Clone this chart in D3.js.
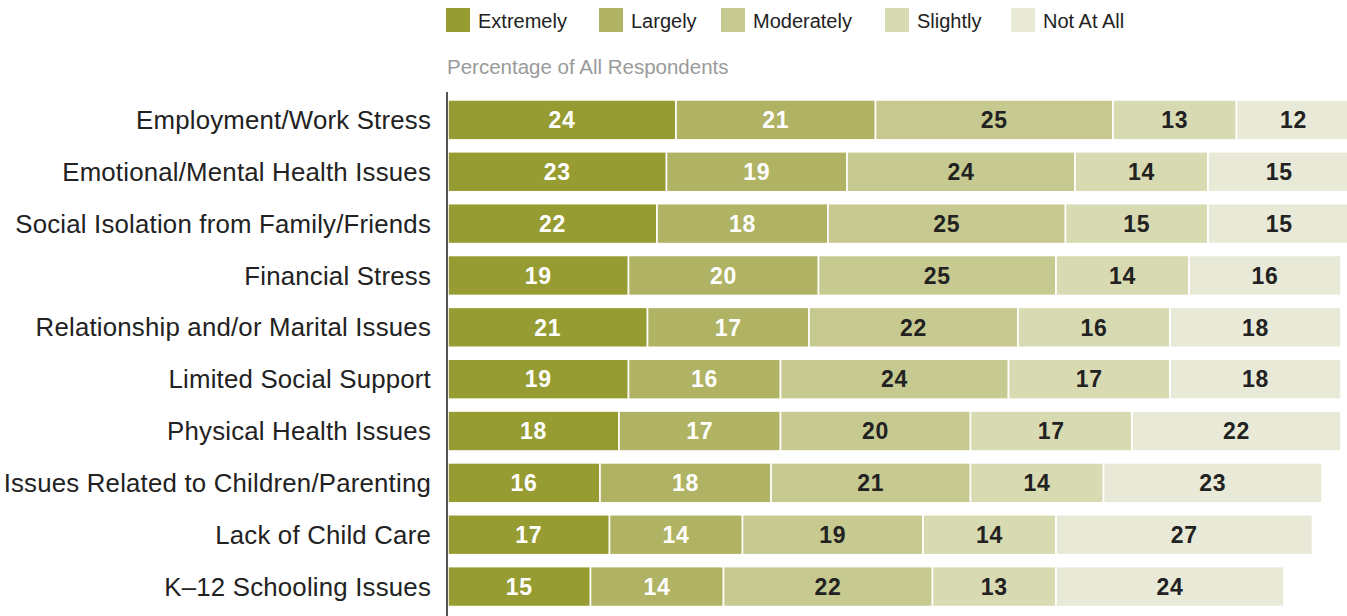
<!DOCTYPE html>
<html>
<head>
<meta charset="utf-8">
<script src="https://cdn.jsdelivr.net/npm/d3@7"></script>
<style>
  html, body { margin: 0; padding: 0; background: #fff; }
  svg { display: block; }
</style>
</head>
<body>
<svg id="chart" width="1347" height="616"></svg>
<script>
// Sources of stress, share of respondents at each level
const categories = [
  "Employment/Work Stress",
  "Emotional/Mental Health Issues",
  "Social Isolation from Family/Friends",
  "Financial Stress",
  "Relationship and/or Marital Issues",
  "Limited Social Support",
  "Physical Health Issues",
  "Issues Related to Children/Parenting",
  "Lack of Child Care",
  "K\u201312 Schooling Issues"
];
const levels = ["Extremely", "Largely", "Moderately", "Slightly", "Not At All"];
const extremely  = [24, 23, 22, 19, 21, 19, 18, 16, 17, 15];
const largely    = [21, 19, 18, 20, 17, 16, 17, 18, 14, 14];
const moderately = [25, 24, 25, 25, 22, 24, 20, 21, 19, 22];
const slightly   = [13, 14, 15, 14, 16, 17, 17, 14, 14, 13];
const notAtAll   = [12, 15, 15, 16, 18, 18, 22, 23, 27, 24];
const subtitle = "Percentage of All Respondents";

const colors = ["#979c32", "#b0b363", "#c6c990", "#d8dab1", "#e8ead7"];
const labelColors = ["#ffffff", "#ffffff", "#222222", "#222222", "#222222"];

const series = [extremely, largely, moderately, slightly, notAtAll];
const rows = categories.map((c, i) => {
  const r = { category: c };
  levels.forEach((l, j) => { r[l] = series[j][i]; });
  return r;
});
const stacked = d3.stack().keys(levels)(rows);

const svg = d3.select("#chart");
const axisX = 447;

const x = d3.scaleLinear().domain([0, 100]).range([axisX + 1, axisX + 1 + 950]);
const y = d3.scaleBand()
  .domain(categories)
  .range([94, 94 + 10 * 51.85])
  .paddingInner(0.229)
  .paddingOuter(0.1145);
const color = d3.scaleOrdinal().domain(levels).range(colors);
const textColor = d3.scaleOrdinal().domain(levels).range(labelColors);

const font = "'Liberation Sans', Arial, Helvetica, sans-serif";

// Legend
const legendX = [446, 599, 721, 885, 1011];
const legend = svg.append("g");
levels.forEach((l, i) => {
  const g = legend.append("g").attr("transform", `translate(${legendX[i]},8)`);
  g.append("rect").attr("width", 24).attr("height", 24).attr("fill", color(l));
  g.append("text")
    .attr("x", 32).attr("y", 19.5)
    .attr("font-family", font).attr("font-size", 20)
    .attr("fill", "#222")
    .text(l);
});

svg.append("text")
  .attr("x", 447).attr("y", 74)
  .attr("font-family", font).attr("font-size", 20.5)
  .attr("fill", "#9a9a9a")
  .text(subtitle);

// Stacked bars
const layer = svg.append("g").selectAll("g")
  .data(stacked).join("g")
  .attr("fill", d => color(d.key));

layer.selectAll("rect")
  .data(d => d.map(v => Object.assign(v, { key: d.key })))
  .join("rect")
  .attr("x", d => x(d[0]))
  .attr("y", d => y(d.data.category))
  .attr("width", d => x(d[1]) - x(d[0]))
  .attr("height", y.bandwidth())
  .attr("stroke", "#fff")
  .attr("stroke-width", 1.6);

layer.selectAll("text")
  .data(d => d)
  .join("text")
  .attr("x", d => (x(d[0]) + x(d[1])) / 2)
  .attr("y", d => y(d.data.category) + y.bandwidth() / 2)
  .attr("dy", "0.36em")
  .attr("text-anchor", "middle")
  .attr("font-family", font)
  .attr("font-weight", "bold")
  .attr("font-size", 23)
  .attr("letter-spacing", 0.8)
  .attr("fill", d => textColor(d.key))
  .text(d => d[1] - d[0]);

// Category axis
const yAxis = svg.append("g")
  .attr("transform", `translate(${axisX},0)`)
  .call(d3.axisLeft(y).tickSize(0).tickPadding(16));
yAxis.select(".domain").remove();
yAxis.selectAll("text")
  .attr("font-family", font)
  .attr("font-size", 25.8)
  .attr("letter-spacing", 0.2)
  .attr("fill", "#222")
  .attr("dy", "0.35em");

svg.append("line")
  .attr("x1", axisX).attr("x2", axisX)
  .attr("y1", 92).attr("y2", 616)
  .attr("stroke", "#555")
  .attr("stroke-width", 2);
</script>
</body>
</html>
